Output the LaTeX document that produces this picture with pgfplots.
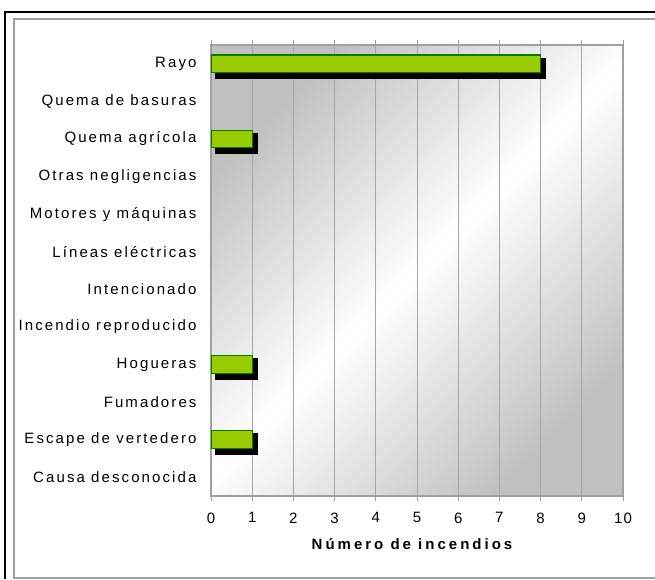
\documentclass[border=0pt]{standalone}
\usepackage{fontspec}
\setmainfont{Liberation Sans}
\newfontfamily\catfont[LetterSpace=14]{Liberation Sans}
\newfontfamily\lblfont[LetterSpace=20]{Liberation Sans}
\newfontfamily\tickfont[LetterSpace=8]{Liberation Sans}
\usepackage{pgfplots}
\pgfplotsset{compat=1.18}
\definecolor{barfill}{HTML}{99CC00}
\definecolor{baredge}{HTML}{008000}
\definecolor{axgray}{HTML}{A0A0A0}
\definecolor{gridgray}{HTML}{A6A6A6}
\definecolor{bggray}{HTML}{C0C0C0}
\begin{document}
\begin{tikzpicture}
\useasboundingbox (0,0) rectangle (655pt,579pt);
\fill[white] (0,0) rectangle (655pt,579pt);
\draw[black, line width=1.5pt] (5pt,0pt) -- (5pt,567pt) -- (655pt,567pt);
\draw[axgray, line width=1.5pt] (655pt,1pt) -- (14pt,1pt) -- (14pt,560pt) -- (655pt,560pt);
\begin{axis}[
  at={(211pt,83pt)}, anchor=south west,
  scale only axis, width=412pt, height=451pt,
  xmin=0, xmax=10, ymin=-0.5, ymax=11.5,
  xtick={0,...,10},
  ytick={0,...,11},
  yticklabels={Causa desconocida, Escape de vertedero, Fumadores, Hogueras, Incendio reproducido, Intencionado, Líneas eléctricas, Motores y máquinas, Otras negligencias, Quema agrícola, Quema de basuras, Rayo},
  y tick style={draw=none},
  extra y ticks={-0.5,0.5,...,11.5},
  extra y tick labels={},
  extra y tick style={tick style={draw=axgray, line width=1pt}, major tick length=5pt, grid=none},
  tick align=outside,
  xmajorgrids, major grid style={gridgray, line width=1pt},
  axis line style={axgray, line width=1.5pt},
  x tick style={axgray, line width=1pt},
  major tick length=5pt,
  yticklabel style={font=\catfont\fontsize{15}{18}\selectfont, text=black, xshift=-6pt},
  xticklabel style={font=\tickfont\fontsize{15}{18}\selectfont, text=black, yshift=-8pt},
  xlabel={Número de incendios},
  xlabel style={font=\lblfont\bfseries\fontsize{15}{18}\selectfont, at={(axis description cs:0.5,0)}, anchor=center, yshift=-48pt, xshift=-5pt},
  axis background/.style={left color=bggray, right color=bggray, middle color=white, shading angle=45},
  /pgf/number format/assume math mode=true,
]
\addplot[xbar, bar shift=0pt, bar width=20pt, fill=black, draw=black, line width=1.5pt, xshift=5pt, yshift=-4.5pt] coordinates {(1,1) (1,3) (1,9) (8,11)};
\addplot[xbar, bar shift=0pt, bar width=17.5pt, fill=barfill, draw=baredge, line width=1.2pt] coordinates {(1,1) (1,3) (1,9) (8,11)};
\end{axis}
\end{tikzpicture}
\end{document}
